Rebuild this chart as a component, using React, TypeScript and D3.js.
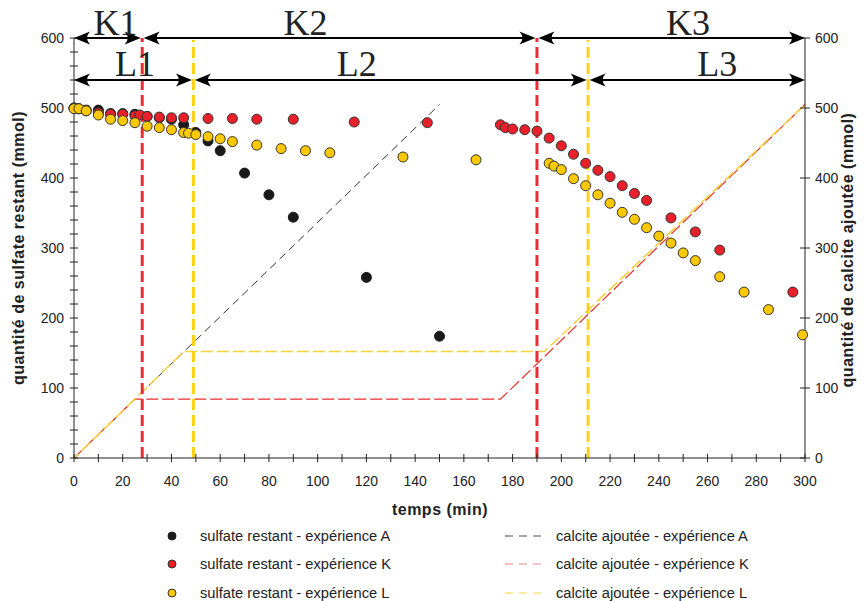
import React from "react";
import * as d3 from "d3";

const W = 867;
const H = 601;

// sulfate restant (mmol) – expérience A
const timesA = [0, 2, 5, 10, 15, 20, 25, 30, 35, 40, 45, 50, 55, 60, 70, 80, 90, 120, 150];
const valuesA = [500, 499, 497, 497, 492, 492, 491, 488, 486, 484, 476, 465, 453, 439, 407, 376, 344, 258, 174];

// expérience K
const timesK = [0, 2, 5, 10, 15, 20, 25, 27, 30, 35, 40, 45, 55, 65, 75, 90, 115, 145, 175, 177, 180, 185, 190, 195, 200, 205, 210, 215, 220, 225, 230, 235, 245, 255, 265, 295];
const valuesK = [500, 499, 496, 493, 491, 491, 489, 490, 488, 487, 486, 486, 485, 485, 484, 484, 480, 479, 476, 472, 470, 469, 467, 457, 446, 434, 421, 411, 402, 389, 378, 368, 343, 323, 297, 237];

// expérience L
const timesL = [0, 2, 5, 10, 15, 20, 25, 30, 35, 40, 45, 47, 50, 55, 60, 65, 75, 85, 95, 105, 135, 165, 195, 197, 200, 205, 210, 215, 220, 225, 230, 235, 240, 245, 250, 255, 265, 275, 285, 299];
const valuesL = [499, 499, 496, 490, 484, 482, 479, 474, 472, 469, 465, 464, 462, 459, 456, 452, 447, 442, 439, 436, 430, 426, 421, 417, 412, 399, 389, 376, 364, 351, 341, 329, 317, 307, 293, 282, 259, 237, 212, 176];

// calcite ajoutée (mmol)
const calcTimesA = [0, 150];
const calcValuesA = [0, 505];
const calcTimesK = [0, 25, 175, 300];
const calcValuesK = [0, 84, 84, 505];
const calcTimesL = [0, 45, 193, 300];
const calcValuesL = [0, 152, 152, 505];

// phase boundaries (min)
const boundsK = [0, 28, 190, 300];
const boundsL = [0, 49, 211, 300];
const labelsK = ["K1", "K2", "K3"];
const labelsL = ["L1", "L2", "L3"];
const labelPosK = [17, 95, 252];
const labelPosL = [25, 116, 264];

const xTicks = d3.range(0, 301, 20);
const xMinor = d3.range(0, 301, 10);
const yTicks = d3.range(0, 601, 100);
const yMinor = d3.range(0, 601, 20);

const legendSeries = ["A", "K", "L"];

const ML = 74, MR = 805, MT = 38, MB = 458;

export default function App() {
  const x = d3.scaleLinear().domain([0, 300]).range([ML, MR]);
  const y = d3.scaleLinear().domain([0, 600]).range([MB, MT]);
  const line = d3.line<[number, number]>().x((d) => x(d[0])).y((d) => y(d[1]));
  const zip = (t: number[], v: number[]) => t.map((ti, i) => [ti, v[i]] as [number, number]);

  const sans = "'Liberation Sans', Arial, sans-serif";
  const serif = "'Liberation Serif', 'Times New Roman', serif";

  const arrowHead = (tx: number, ty: number, dir: number) => {
    const L = 16, hw = 6.5;
    return `M${tx},${ty} L${tx - dir * L},${ty - hw} Q${tx - dir * 10},${ty} ${tx - dir * L},${ty + hw} Z`;
  };

  const arrowRow = (bounds: number[], yy: number) =>
    bounds.slice(0, -1).map((b, i) => {
      const x0 = x(b) + (i === 0 ? 0 : 1.5);
      const x1 = x(bounds[i + 1]) - (i === bounds.length - 2 ? 0 : 1.5);
      return (
        <g key={i}>
          <line x1={x0 + 4} x2={x1 - 4} y1={yy} y2={yy} stroke="#000" strokeWidth={2} />
          <path d={arrowHead(x0, yy, -1)} fill="#000" />
          <path d={arrowHead(x1, yy, 1)} fill="#000" />
        </g>
      );
    });

  const dots = (t: number[], v: number[], fill: string, stroke: string) =>
    t.map((ti, i) => (
      <circle key={i} cx={x(ti)} cy={y(v[i])} r={5} fill={fill} stroke={stroke} strokeWidth={1} />
    ));

  const legendFill = ["#1a1a1a", "#e8202a", "#fcc800"];
  const legendLine = ["#555555", "#f08a8a", "#f9d84c"];
  const legendY = [536, 564, 593];

  return (
    <svg width={W} height={H} style={{ display: "block", position: "absolute", left: 0, top: 0 }}>
      <rect width={W} height={H} fill="#fff" />

      {/* calcite lines */}
      <path d={line(zip(calcTimesA, calcValuesA)) || ""} fill="none" stroke="#333" strokeWidth={1} strokeDasharray="8,5" />
      <path d={line(zip(calcTimesK, calcValuesK)) || ""} fill="none" stroke="#e8302c" strokeWidth={1.2} strokeDasharray="12,4" />
      <path d={line(zip(calcTimesL, calcValuesL)) || ""} fill="none" stroke="#f8d040" strokeWidth={1.5} strokeDasharray="12,4" strokeDashoffset={6} />

      {/* vertical boundary lines */}
      {[boundsK[1], boundsK[2]].map((b, i) => (
        <line key={"vk" + i} x1={x(b)} x2={x(b)} y1={MB} y2={MT} stroke="#ee2a36" strokeWidth={3} strokeDasharray="11,5" />
      ))}
      {[boundsL[1], boundsL[2]].map((b, i) => (
        <line key={"vl" + i} x1={x(b)} x2={x(b)} y1={MB} y2={MT + 2} stroke="#fcd116" strokeWidth={3} strokeDasharray="11,5" />
      ))}

      {/* axes */}
      <line x1={ML} x2={ML} y1={MT} y2={MB} stroke="#222" strokeWidth={1} />
      <line x1={MR} x2={MR} y1={MT} y2={MB} stroke="#222" strokeWidth={1} />
      <line x1={ML} x2={MR} y1={MB} y2={MB} stroke="#222" strokeWidth={1} />
      {yMinor.map((v) => (
        <line key={"ly" + v} x1={ML - 4} x2={ML + 4} y1={y(v)} y2={y(v)} stroke="#222" strokeWidth={1} />
      ))}
      {yTicks.map((v) => (
        <line key={"ry" + v} x1={MR - 5} x2={MR + 5} y1={y(v)} y2={y(v)} stroke="#222" strokeWidth={1} />
      ))}
      {xMinor.map((v) => (
        <line key={"bx" + v} x1={x(v)} x2={x(v)} y1={MB - 4} y2={MB + 4} stroke="#222" strokeWidth={1} />
      ))}
      {yTicks.map((v) => (
        <text key={"tl" + v} x={ML - 10} y={y(v) + 5} textAnchor="end" fontFamily={sans} fontSize={14} fill="#222">{v}</text>
      ))}
      {yTicks.map((v) => (
        <text key={"tr" + v} x={MR + 10} y={y(v) + 5} textAnchor="start" fontFamily={sans} fontSize={14} fill="#222">{v}</text>
      ))}
      {xTicks.map((v) => (
        <text key={"tx" + v} x={x(v)} y={486} textAnchor="middle" fontFamily={sans} fontSize={14} fill="#222">{v}</text>
      ))}

      <text x={440} y={515} textAnchor="middle" fontFamily={sans} fontSize={16} fontWeight="bold" letterSpacing={0.5} fill="#222">temps (min)</text>
      <text transform={`translate(24,${(MT + MB) / 2}) rotate(-90)`} textAnchor="middle" fontFamily={sans} fontSize={16} fontWeight="bold" letterSpacing={0.5} fill="#222">quantité de sulfate restant (mmol)</text>
      <text transform={`translate(853,${(MT + MB) / 2 + 2}) rotate(-90)`} textAnchor="middle" fontFamily={sans} fontSize={16} fontWeight="bold" letterSpacing={0.5} fill="#222">quantité de calcite ajoutée (mmol)</text>

      {/* data points */}
      {dots(timesA, valuesA, "#1a1a1a", "#1a1a1a")}
      {dots(timesK, valuesK, "#e8202a", "#333")}
      {dots(timesL, valuesL, "#fcc800", "#333")}

      {/* phase arrows */}
      {arrowRow(boundsK, 38)}
      {arrowRow(boundsL, 80)}
      {labelsK.map((l, i) => (
        <text key={l} x={x(labelPosK[i])} y={35} textAnchor="middle" fontFamily={serif} fontSize={36} fill="#222">{l}</text>
      ))}
      {labelsL.map((l, i) => (
        <text key={l} x={x(labelPosL[i])} y={76} textAnchor="middle" fontFamily={serif} fontSize={36} fill="#222">{l}</text>
      ))}

      {/* legend */}
      {legendSeries.map((s, i) => (
        <g key={"lg" + s}>
          <circle cx={172} cy={legendY[i]} r={4} fill={legendFill[i]} stroke={i === 0 ? legendFill[0] : "#333"} strokeWidth={1} />
          <text x={200} y={legendY[i] + 5} fontFamily={sans} fontSize={14.7} fill="#222">{`sulfate restant - expérience ${s}`}</text>
          <line x1={505} x2={545} y1={legendY[i]} y2={legendY[i]} stroke={legendLine[i]} strokeWidth={1.2} strokeDasharray="8,6" />
          <text x={556} y={legendY[i] + 5} fontFamily={sans} fontSize={14.7} fill="#222">{`calcite ajoutée - expérience ${s}`}</text>
        </g>
      ))}
    </svg>
  );
}
